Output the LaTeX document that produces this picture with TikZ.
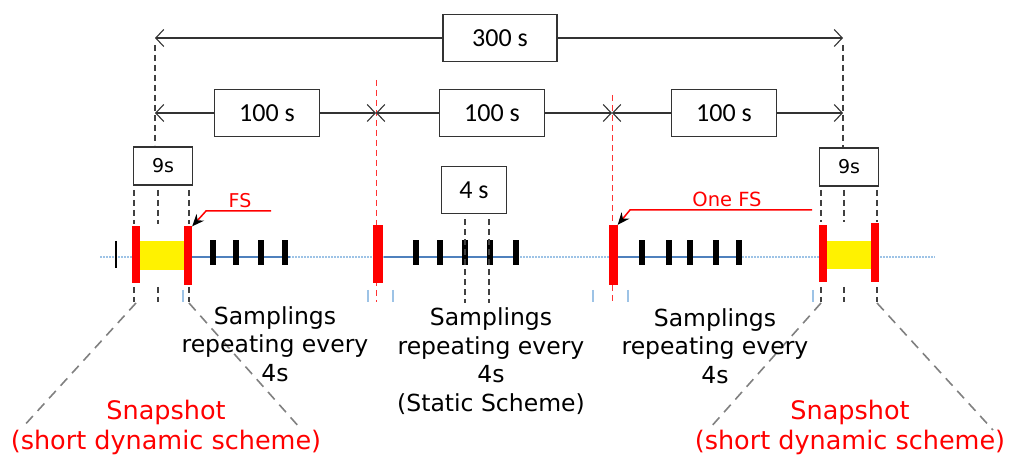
\documentclass[tikz,border=0pt]{standalone}
\usepackage{fontspec}
\setmainfont{DejaVu Sans}
\newfontfamily\boxfont{Carlito}
\usetikzlibrary{arrows.meta}
\definecolor{tblue}{RGB}{79,129,189}
\definecolor{lblue}{RGB}{157,195,230}
\definecolor{dgrey}{RGB}{128,128,128}
\tikzset{
  lblbox/.style={draw=black!80,fill=white,line width=1.2pt,inner sep=0pt,font=\boxfont\fontsize{26}{30}\selectfont},
  ninebox/.style={draw=black!80,fill=white,line width=1.2pt,inner sep=0pt,minimum width=59pt,minimum height=38pt,font=\fontsize{19}{22}\selectfont},
  dimline/.style={line width=1.1pt,draw=black!80},
  rbar/.style={fill=red,inner sep=0pt,minimum width=8pt},
  smark/.style={fill=black,inner sep=0pt,minimum width=6pt,minimum height=25pt},
  guide/.style={black!75,line width=1.4pt,dash pattern=on 6pt off 4pt},
  rguide/.style={red!80,line width=1pt,dash pattern=on 6pt off 4pt},
  cone/.style={dgrey,line width=1.6pt,dash pattern=on 10pt off 7pt},
  btick/.style={lblue,line width=1.4pt},
  fsarrow/.style={red,line width=1.5pt,-{Stealth[length=12pt,width=10pt,color=black]}},
  caption/.style={align=center,font=\fontsize{23.5}{28.5}\selectfont},
  snap/.style={align=center,text=red,font=\fontsize{25.5}{30}\selectfont}
}
\begin{document}
\begin{tikzpicture}[x=1pt,y=-1pt,>={Straight Barb[length=8pt,width=17pt]}]
    \useasboundingbox (0,0) rectangle (1010,457);

    % end points of the time spans
    \coordinate (tA) at (155,38);
    \coordinate (tB) at (843,38);
    \coordinate (hA) at (155,113);
    \coordinate (hB) at (376,113);
    \coordinate (hC) at (612,113);
    \coordinate (hD) at (843,113);

    % guide lines
    \draw[guide] (155,45) -- (155,145);
    \draw[guide] (843,45) -- (843,147);
    \draw[rguide] (hB) ++(0,-33) -- (376,302);
    \draw[rguide] (hC) ++(0,-18) -- (612,302);

    % 300 s span
    \node[lblbox,minimum width=114pt,minimum height=47pt] (tot) at (500,38) {300 s};
    \draw[dimline,<-] (tA) -- (tot);
    \draw[dimline,->] (tot) -- (tB);

    % 100 s spans
    \node[lblbox,minimum width=105pt,minimum height=47pt] (h1) at (267,113) {100 s};
    \node[lblbox,minimum width=105pt,minimum height=47pt] (h2) at (492,113) {100 s};
    \node[lblbox,minimum width=105pt,minimum height=47pt] (h3) at (724,113) {100 s};
    \draw[dimline,<-] (hA) -- (h1);
    \draw[dimline,->] (h1) -- (hB);
    \draw[dimline,<-] (hB) -- (h2);
    \draw[dimline,->] (h2) -- (hC);
    \draw[dimline,<-] (hC) -- (h3);
    \draw[dimline,->] (h3) -- (hD);

    % 9 s and 4 s boxes
    \node[ninebox] (n9L) at (163,166) {9s};
    \node[ninebox] (n9R) at (849,167) {9s};
    \node[lblbox,minimum width=65pt,minimum height=47pt] (n4) at (474,190) {4 s};

    % time line
    \draw[lblue,line width=1.2pt,dash pattern=on 2pt off 1pt] (100,257) -- (935,257);
    \draw[tblue,line width=1.6pt] (192,257) -- (290,257);
    \draw[tblue,line width=1.6pt] (384,257) -- (517,257);
    \draw[tblue,line width=1.6pt] (618,257) -- (738,257);

    % snapshot windows
    \node[fill=yellow,inner sep=0pt,minimum width=46pt,minimum height=29pt] (yL) at (161,256) {};
    \node[fill=yellow,inner sep=0pt,minimum width=53pt,minimum height=28pt] (yR) at (852,255) {};
    \draw[black,line width=1.4pt] (116,241) -- (116,268);

    % red bars
    \node[rbar,minimum height=57pt] (L1) at (136,255) {};
    \node[rbar,minimum height=59pt] (L2) at (188,256) {};
    \node[rbar,minimum height=58pt,minimum width=10pt] (M1) at (378,254) {};
    \node[rbar,minimum height=60pt,minimum width=9pt] (M2) at (613,255) {};
    \node[rbar,minimum height=57pt] (R1) at (823,254) {};
    \node[rbar,minimum height=59pt] (R2) at (875,253) {};

    % samplings
    \foreach \x in {213,236,261,285}
        \node[smark] at (\x,253) {};
    \foreach \x in {416,440,465,490,516}
        \node[smark] at (\x,253) {};
    \foreach \x in {642,669,690,716,739}
        \node[smark] at (\x,253) {};

    % small blue ticks under the line
    \foreach \x in {183,368,393,593,628,813}
        \draw[btick] (\x,290) -- (\x,302);

    % dashed marks of the 9 s and 4 s spans
    \foreach \x in {134,158,189}
    {
        \draw[guide] (\x,190) -- (\x,224);
        \draw[guide] (\x,287) -- (\x,302);
    }
    \foreach \x in {821,844,877}
    {
        \draw[guide] (\x,190) -- (\x,222);
        \draw[guide] (\x,287) -- (\x,302);
    }
    \draw[guide] (n4.south -| 465,0) ++(0,5) -- (465,303);
    \draw[guide] (n4.south -| 489,0) ++(0,5) -- (489,303);

    % FS pointers
    \coordinate (fsL) at (271,211);
    \coordinate (fsR) at (812,210);
    \draw[fsarrow] (fsL) -- (206,211) -- (L2.north east);
    \draw[fsarrow] (fsR) -- (630,210) -- (M2.north east);
    \node[text=red,font=\fontsize{19}{22}\selectfont] (fs1) at (240,201) {FS};
    \node[text=red,font=\fontsize{19.5}{22}\selectfont] (fs2) at (727,199) {One FS};

    % zoom cones of the snapshots
    \coordinate (cL1) at (22,428);
    \coordinate (cL2) at (300,428);
    \coordinate (cR1) at (710,428);
    \coordinate (cR2) at (993,430);
    \draw[cone] (136,303) -- (cL1);
    \draw[cone] (189,303) -- (cL2);
    \draw[cone] (821,303) -- (cR1);
    \draw[cone] (877,303) -- (cR2);

    % captions
    \node[caption] (sL) at (275,344) {Samplings\\repeating every\\4s};
    \node[caption] (sM) at (491,361) {Samplings\\repeating every\\4s\\(Static Scheme)};
    \node[caption] (sR) at (715,346) {Samplings\\repeating every\\4s};
    \node[snap] (pL) at (166,427) {Snapshot\\(short dynamic scheme)};
    \node[snap] (pR) at (850,427) {Snapshot\\(short dynamic scheme)};
\end{tikzpicture}
\end{document}
